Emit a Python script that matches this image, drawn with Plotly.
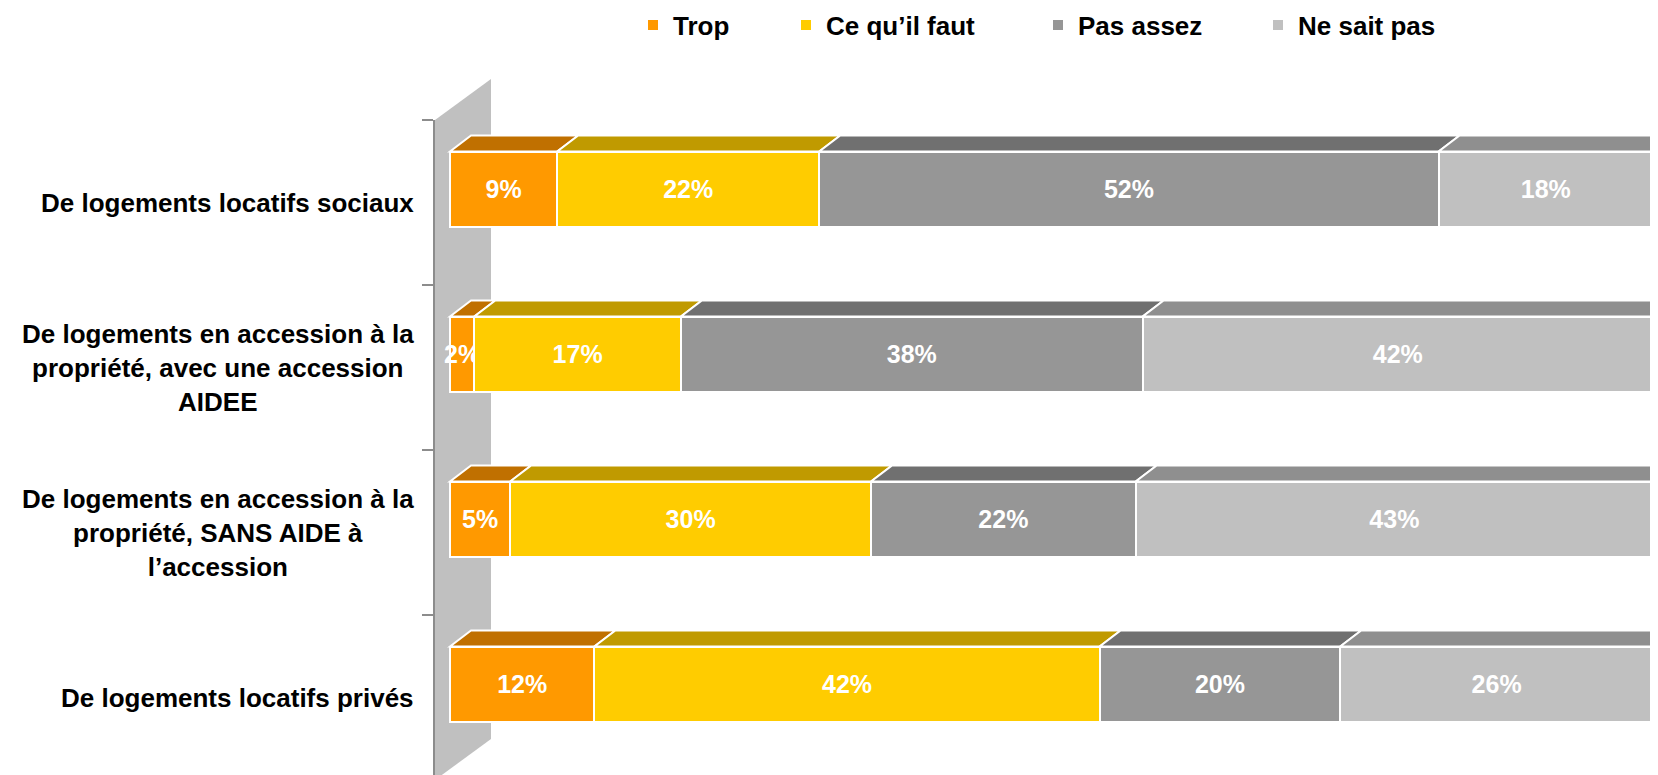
import plotly.graph_objects as go

# categories (rows, top to bottom) and answers
categories = [
    "De logements locatifs sociaux",
    "De logements en accession à la<br>propriété, avec une accession<br>AIDEE",
    "De logements en accession à la<br>propriété, SANS AIDE à<br>l’accession",
    "De logements locatifs privés",
]
series_names = ["Trop", "Ce qu’il faut", "Pas assez", "Ne sait pas"]

trop = [9, 2, 5, 12]
ce_quil_faut = [22, 17, 30, 42]
pas_assez = [52, 38, 22, 20]
ne_sait_pas = [18, 42, 43, 26]

front_colors = ["#FF9900", "#FFCC00", "#969696", "#C0C0C0"]
top_colors = ["#C07000", "#C09A00", "#707070", "#8F8F8F"]
side_color = "#6B6B6B"
wall_color = "#C0C0C0"
axis_color = "#8C8C8C"

# the page body keeps its default 8px margin, so the figure is a bit smaller
PAGE = 8
W, H = 1658 - PAGE, 775 - PAGE
FONT = "Liberation Sans, Arial, sans-serif"

def fx(p):
    # page pixel -> figure pixel
    return p - PAGE

# pixel geometry of the plot (front plane), in page pixels
L, T = fx(434), fx(70)
X0_PX, X100_PX = fx(450), fx(1653)
CAT_TOP_PX, CAT_STEP = fx(120), 165
px_x = (X100_PX - X0_PX) / 100.0
x_range = [-(X0_PX - L) / px_x, (W - X0_PX) / px_x]
y_range = [-0.5 + (H - CAT_TOP_PX) / CAT_STEP, -0.5 - (CAT_TOP_PX - T) / CAT_STEP]

bar_width = 75 / CAT_STEP
bar_offset = -51 / CAT_STEP
depth_x = 21 / px_x
depth_y = 16 / CAT_STEP

series = [trop, ce_quil_faut, pas_assez, ne_sait_pas]

fig = go.Figure()
for j, (name, vals) in enumerate(zip(series_names, series)):
    fig.add_trace(go.Bar(
        y=categories, x=vals, orientation="h", name=name,
        marker=dict(color=front_colors[j], line=dict(color="white", width=2)),
        width=bar_width, offset=bar_offset,
        text=[f"{v}%" for v in vals], textposition="inside",
        insidetextanchor="middle", textangle=0, constraintext="none",
        textfont=dict(family=FONT, size=25, color="white", weight="bold"),
        legend="legend" if j == 0 else f"legend{j + 1}",
        showlegend=True, hoverinfo="skip",
    ))

shapes = []

# side wall of the 3D box
wall_dx = 56 / px_x
wall_dy = 41 / CAT_STEP
wx = -15 / px_x
shapes.append(dict(
    type="path", xref="x", yref="y", layer="below",
    path=f"M{wx},-0.5 L{wx + wall_dx},{-0.5 - wall_dy} L{wx + wall_dx},{3.5 - wall_dy} L{wx},3.5 Z",
    fillcolor=wall_color, line=dict(width=0),
))
# axis line
shapes.append(dict(type="line", xref="paper", yref="y", x0=0, x1=0, y0=-0.5, y1=3.5,
                   line=dict(color=axis_color, width=2)))

# top faces and right side face of each stacked bar
for i in range(len(categories)):
    row = [s[i] for s in series]
    total = float(sum(row))
    yt = i + bar_offset
    yb = yt + bar_width
    start = 0.0
    for j, v in enumerate(row):
        end = start + v / total * 100
        shapes.append(dict(
            type="path", xref="x", yref="y",
            path=(f"M{start},{yt} L{end},{yt} L{end + depth_x},{yt - depth_y} "
                  f"L{start + depth_x},{yt - depth_y} Z"),
            fillcolor=top_colors[j], line=dict(color="white", width=2),
        ))
        start = end
    shapes.append(dict(
        type="path", xref="x", yref="y",
        path=(f"M{start},{yt} L{start + depth_x},{yt - depth_y} "
              f"L{start + depth_x},{yb - depth_y} L{start},{yb} Z"),
        fillcolor=side_color, line=dict(color="white", width=1),
    ))

# category labels, centred lines
annotations = []
for i, cat in enumerate(categories):
    annotations.append(dict(
        x=(fx(416) - L) / (W - L), xref="paper", y=i, yref="y",
        xanchor="right", yanchor="middle", align="center", showarrow=False,
        text=cat, font=dict(family=FONT, size=26, color="black", weight="bold"),
    ))

layout = dict(
    width=W, height=H,
    margin=dict(l=L, r=0, t=T, b=0),
    plot_bgcolor="white", paper_bgcolor="white",
    barmode="stack", barnorm="percent", showlegend=True,
    xaxis=dict(range=x_range, visible=False),
    yaxis=dict(type="category", categoryorder="array", categoryarray=categories,
               range=y_range, tickson="boundaries", ticks="outside", ticklen=11,
               tickwidth=2, tickcolor=axis_color, showticklabels=False,
               showgrid=False, zeroline=False, showline=False),
    shapes=shapes, annotations=annotations,
)

legend_square_px = [652, 805, 1057, 1277]
for j, sq in enumerate(legend_square_px):
    key = "legend" if j == 0 else f"legend{j + 1}"
    layout[key] = dict(
        x=(fx(sq) - 19) / W, xref="container", xanchor="left",
        y=1 - fx(25) / H, yref="container", yanchor="middle",
        orientation="h", bgcolor="rgba(0,0,0,0)",
        font=dict(family=FONT, size=26, color="black", weight="bold"),
    )

fig.update_layout(**layout)
fig.write_html("out.html")
